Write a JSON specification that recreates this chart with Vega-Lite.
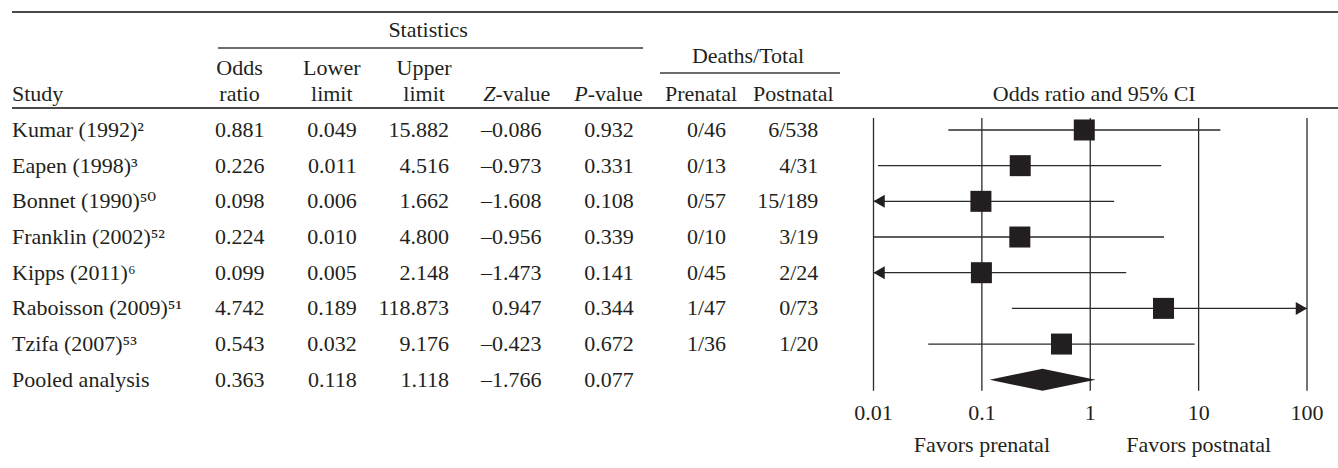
{
  "$schema": "https://vega.github.io/schema/vega-lite/v6.json",
  "width": 1338,
  "height": 468,
  "autosize": {"type": "none"},
  "padding": 0,
  "background": "white",
  "config": {
    "view": {"stroke": null},
    "text": {"font": "Liberation Serif, DejaVu Serif", "fontSize": 22, "color": "#231f20", "baseline": "middle"}
  },
  "datasets": {
    "studies": [
      {"study": "Kumar (1992)²", "or": 0.881, "lo": 0.049, "hi": 15.882, "z": "–0.086", "p": "0.932", "pre": "0/46", "post": "6/538"},
      {"study": "Eapen (1998)³", "or": 0.226, "lo": 0.011, "hi": 4.516, "z": "–0.973", "p": "0.331", "pre": "0/13", "post": "4/31"},
      {"study": "Bonnet (1990)⁵⁰", "or": 0.098, "lo": 0.006, "hi": 1.662, "z": "–1.608", "p": "0.108", "pre": "0/57", "post": "15/189"},
      {"study": "Franklin (2002)⁵²", "or": 0.224, "lo": 0.010, "hi": 4.800, "z": "–0.956", "p": "0.339", "pre": "0/10", "post": "3/19"},
      {"study": "Kipps (2011)⁶", "or": 0.099, "lo": 0.005, "hi": 2.148, "z": "–1.473", "p": "0.141", "pre": "0/45", "post": "2/24"},
      {"study": "Raboisson (2009)⁵¹", "or": 4.742, "lo": 0.189, "hi": 118.873, "z": "0.947", "p": "0.344", "pre": "1/47", "post": "0/73"},
      {"study": "Tzifa (2007)⁵³", "or": 0.543, "lo": 0.032, "hi": 9.176, "z": "–0.423", "p": "0.672", "pre": "1/36", "post": "1/20"},
      {"study": "Pooled analysis", "or": 0.363, "lo": 0.118, "hi": 1.118, "z": "–1.766", "p": "0.077"}
    ],
    "ticks": [{"t": 0.01}, {"t": 0.1}, {"t": 1}, {"t": 10}, {"t": 100}]
  },
  "resolve": {"scale": {"x": "independent"}},
  "layer": [
    {
      "layer": [
        {
          "data": {"name": "studies"},
          "mark": {"type": "text", "align": "left", "dx": -252.5},
          "encoding": {
            "x": {"datum": "or", "type": "nominal", "scale": {"type": "point", "domain": ["or", "lo", "hi", "z", "p", "pre", "post"], "range": [264.5, 818.3], "padding": 0}, "axis": null},
            "y": {"field": "study", "type": "nominal", "scale": {"type": "point", "domain": ["hdr", "Kumar (1992)²", "Eapen (1998)³", "Bonnet (1990)⁵⁰", "Franklin (2002)⁵²", "Kipps (2011)⁶", "Raboisson (2009)⁵¹", "Tzifa (2007)⁵³", "Pooled analysis", "ticks", "favors"], "range": [94.3, 451.1], "padding": 0}, "axis": null},
            "text": {"field": "study", "type": "nominal"}
          }
        },
        {
          "data": {"values": [{"t": "Study"}]},
          "mark": {"type": "text", "align": "left", "dx": -252.5},
          "encoding": {
            "x": {"datum": "or", "type": "nominal", "scale": {"type": "point", "domain": ["or", "lo", "hi", "z", "p", "pre", "post"], "range": [264.5, 818.3], "padding": 0}, "axis": null},
            "y": {"datum": "hdr", "type": "nominal", "scale": {"type": "point", "domain": ["hdr", "Kumar (1992)²", "Eapen (1998)³", "Bonnet (1990)⁵⁰", "Franklin (2002)⁵²", "Kipps (2011)⁶", "Raboisson (2009)⁵¹", "Tzifa (2007)⁵³", "Pooled analysis", "ticks", "favors"], "range": [94.3, 451.1], "padding": 0}, "axis": null},
            "text": {"field": "t", "type": "nominal"}
          }
        },
        {
          "data": {"name": "studies"},
          "transform": [{"fold": ["or", "lo", "hi"]}],
          "mark": {"type": "text", "align": "right"},
          "encoding": {
            "x": {"field": "key", "type": "nominal", "scale": {"type": "point", "domain": ["or", "lo", "hi", "z", "p", "pre", "post"], "range": [264.5, 818.3], "padding": 0}, "axis": null},
            "y": {"field": "study", "type": "nominal", "scale": {"type": "point", "domain": ["hdr", "Kumar (1992)²", "Eapen (1998)³", "Bonnet (1990)⁵⁰", "Franklin (2002)⁵²", "Kipps (2011)⁶", "Raboisson (2009)⁵¹", "Tzifa (2007)⁵³", "Pooled analysis", "ticks", "favors"], "range": [94.3, 451.1], "padding": 0}, "axis": null},
            "text": {"field": "value", "type": "quantitative", "format": ".3f"}
          }
        },
        {
          "data": {"name": "studies"},
          "transform": [{"fold": ["z", "p", "pre", "post"]}, {"filter": "datum.value != null"}],
          "mark": {"type": "text", "align": "right"},
          "encoding": {
            "x": {"field": "key", "type": "nominal", "scale": {"type": "point", "domain": ["or", "lo", "hi", "z", "p", "pre", "post"], "range": [264.5, 818.3], "padding": 0}, "axis": null},
            "y": {"field": "study", "type": "nominal", "scale": {"type": "point", "domain": ["hdr", "Kumar (1992)²", "Eapen (1998)³", "Bonnet (1990)⁵⁰", "Franklin (2002)⁵²", "Kipps (2011)⁶", "Raboisson (2009)⁵¹", "Tzifa (2007)⁵³", "Pooled analysis", "ticks", "favors"], "range": [94.3, 451.1], "padding": 0}, "axis": null},
            "text": {"field": "value", "type": "nominal"}
          }
        },
        {
          "data": {"values": [{"c": "or", "t": "Odds"}, {"c": "lo", "t": "Lower"}, {"c": "hi", "t": "Upper"}]},
          "mark": {"type": "text", "align": "center", "dx": -25, "dy": -26},
          "encoding": {
            "x": {"field": "c", "type": "nominal", "scale": {"type": "point", "domain": ["or", "lo", "hi", "z", "p", "pre", "post"], "range": [264.5, 818.3], "padding": 0}, "axis": null},
            "y": {"datum": "hdr", "type": "nominal", "scale": {"type": "point", "domain": ["hdr", "Kumar (1992)²", "Eapen (1998)³", "Bonnet (1990)⁵⁰", "Franklin (2002)⁵²", "Kipps (2011)⁶", "Raboisson (2009)⁵¹", "Tzifa (2007)⁵³", "Pooled analysis", "ticks", "favors"], "range": [94.3, 451.1], "padding": 0}, "axis": null},
            "text": {"field": "t", "type": "nominal"}
          }
        },
        {
          "data": {"values": [{"c": "or", "t": "ratio"}, {"c": "lo", "t": "limit"}, {"c": "hi", "t": "limit"}, {"c": "pre", "t": "Prenatal"}, {"c": "post", "t": "Postnatal"}]},
          "mark": {"type": "text", "align": "center", "dx": -25},
          "encoding": {
            "x": {"field": "c", "type": "nominal", "scale": {"type": "point", "domain": ["or", "lo", "hi", "z", "p", "pre", "post"], "range": [264.5, 818.3], "padding": 0}, "axis": null},
            "y": {"datum": "hdr", "type": "nominal", "scale": {"type": "point", "domain": ["hdr", "Kumar (1992)²", "Eapen (1998)³", "Bonnet (1990)⁵⁰", "Franklin (2002)⁵²", "Kipps (2011)⁶", "Raboisson (2009)⁵¹", "Tzifa (2007)⁵³", "Pooled analysis", "ticks", "favors"], "range": [94.3, 451.1], "padding": 0}, "axis": null},
            "text": {"field": "t", "type": "nominal"}
          }
        },
        {
          "data": {"values": [{"c": "z", "t": "Z"}, {"c": "p", "t": "P"}]},
          "mark": {"type": "text", "align": "right", "fontStyle": "italic", "dx": -46},
          "encoding": {
            "x": {"field": "c", "type": "nominal", "scale": {"type": "point", "domain": ["or", "lo", "hi", "z", "p", "pre", "post"], "range": [264.5, 818.3], "padding": 0}, "axis": null},
            "y": {"datum": "hdr", "type": "nominal", "scale": {"type": "point", "domain": ["hdr", "Kumar (1992)²", "Eapen (1998)³", "Bonnet (1990)⁵⁰", "Franklin (2002)⁵²", "Kipps (2011)⁶", "Raboisson (2009)⁵¹", "Tzifa (2007)⁵³", "Pooled analysis", "ticks", "favors"], "range": [94.3, 451.1], "padding": 0}, "axis": null},
            "text": {"field": "t", "type": "nominal"}
          }
        },
        {
          "data": {"values": [{"c": "z", "t": "-value"}, {"c": "p", "t": "-value"}]},
          "mark": {"type": "text", "align": "left", "dx": -46},
          "encoding": {
            "x": {"field": "c", "type": "nominal", "scale": {"type": "point", "domain": ["or", "lo", "hi", "z", "p", "pre", "post"], "range": [264.5, 818.3], "padding": 0}, "axis": null},
            "y": {"datum": "hdr", "type": "nominal", "scale": {"type": "point", "domain": ["hdr", "Kumar (1992)²", "Eapen (1998)³", "Bonnet (1990)⁵⁰", "Franklin (2002)⁵²", "Kipps (2011)⁶", "Raboisson (2009)⁵¹", "Tzifa (2007)⁵³", "Pooled analysis", "ticks", "favors"], "range": [94.3, 451.1], "padding": 0}, "axis": null},
            "text": {"field": "t", "type": "nominal"}
          }
        },
        {
          "data": {"values": [{"t": "Statistics"}]},
          "mark": {"type": "text", "align": "center", "dx": -21, "dy": -64},
          "encoding": {
            "x": {"datum": "hi", "type": "nominal", "scale": {"type": "point", "domain": ["or", "lo", "hi", "z", "p", "pre", "post"], "range": [264.5, 818.3], "padding": 0}, "axis": null},
            "y": {"datum": "hdr", "type": "nominal", "scale": {"type": "point", "domain": ["hdr", "Kumar (1992)²", "Eapen (1998)³", "Bonnet (1990)⁵⁰", "Franklin (2002)⁵²", "Kipps (2011)⁶", "Raboisson (2009)⁵¹", "Tzifa (2007)⁵³", "Pooled analysis", "ticks", "favors"], "range": [94.3, 451.1], "padding": 0}, "axis": null},
            "text": {"field": "t", "type": "nominal"}
          }
        },
        {
          "data": {"values": [{"t": "Deaths/Total"}]},
          "mark": {"type": "text", "align": "center", "dx": 22, "dy": -38},
          "encoding": {
            "x": {"datum": "pre", "type": "nominal", "scale": {"type": "point", "domain": ["or", "lo", "hi", "z", "p", "pre", "post"], "range": [264.5, 818.3], "padding": 0}, "axis": null},
            "y": {"datum": "hdr", "type": "nominal", "scale": {"type": "point", "domain": ["hdr", "Kumar (1992)²", "Eapen (1998)³", "Bonnet (1990)⁵⁰", "Franklin (2002)⁵²", "Kipps (2011)⁶", "Raboisson (2009)⁵¹", "Tzifa (2007)⁵³", "Pooled analysis", "ticks", "favors"], "range": [94.3, 451.1], "padding": 0}, "axis": null},
            "text": {"field": "t", "type": "nominal"}
          }
        },
        {
          "data": {"values": [{}]},
          "mark": {"type": "rule", "stroke": "#3c3c3c", "strokeWidth": 1.6, "xOffset": -46.5, "x2Offset": 9.3, "yOffset": -46.3},
          "encoding": {
            "x": {"datum": "or", "type": "nominal", "scale": {"type": "point", "domain": ["or", "lo", "hi", "z", "p", "pre", "post"], "range": [264.5, 818.3], "padding": 0}, "axis": null},
            "x2": {"datum": "p"},
            "y": {"datum": "hdr", "type": "nominal", "scale": {"type": "point", "domain": ["hdr", "Kumar (1992)²", "Eapen (1998)³", "Bonnet (1990)⁵⁰", "Franklin (2002)⁵²", "Kipps (2011)⁶", "Raboisson (2009)⁵¹", "Tzifa (2007)⁵³", "Pooled analysis", "ticks", "favors"], "range": [94.3, 451.1], "padding": 0}, "axis": null}
          }
        },
        {
          "data": {"values": [{}]},
          "mark": {"type": "rule", "stroke": "#3c3c3c", "strokeWidth": 1.6, "xOffset": -66, "x2Offset": 21.7, "yOffset": -21.3},
          "encoding": {
            "x": {"datum": "pre", "type": "nominal", "scale": {"type": "point", "domain": ["or", "lo", "hi", "z", "p", "pre", "post"], "range": [264.5, 818.3], "padding": 0}, "axis": null},
            "x2": {"datum": "post"},
            "y": {"datum": "hdr", "type": "nominal", "scale": {"type": "point", "domain": ["hdr", "Kumar (1992)²", "Eapen (1998)³", "Bonnet (1990)⁵⁰", "Franklin (2002)⁵²", "Kipps (2011)⁶", "Raboisson (2009)⁵¹", "Tzifa (2007)⁵³", "Pooled analysis", "ticks", "favors"], "range": [94.3, 451.1], "padding": 0}, "axis": null}
          }
        },
        {
          "data": {"values": [{}]},
          "mark": {"type": "rule", "stroke": "#4a4a4a", "strokeWidth": 2, "xOffset": -252.5, "yOffset": -82.3},
          "encoding": {
            "x": {"datum": "or", "type": "nominal", "scale": {"type": "point", "domain": ["or", "lo", "hi", "z", "p", "pre", "post"], "range": [264.5, 818.3], "padding": 0}, "axis": null},
            "x2": {"value": "width"},
            "y": {"datum": "hdr", "type": "nominal", "scale": {"type": "point", "domain": ["hdr", "Kumar (1992)²", "Eapen (1998)³", "Bonnet (1990)⁵⁰", "Franklin (2002)⁵²", "Kipps (2011)⁶", "Raboisson (2009)⁵¹", "Tzifa (2007)⁵³", "Pooled analysis", "ticks", "favors"], "range": [94.3, 451.1], "padding": 0}, "axis": null}
          }
        },
        {
          "data": {"values": [{}]},
          "mark": {"type": "rule", "stroke": "#4a4a4a", "strokeWidth": 2, "xOffset": -252.5, "yOffset": 13.7},
          "encoding": {
            "x": {"datum": "or", "type": "nominal", "scale": {"type": "point", "domain": ["or", "lo", "hi", "z", "p", "pre", "post"], "range": [264.5, 818.3], "padding": 0}, "axis": null},
            "x2": {"value": "width"},
            "y": {"datum": "hdr", "type": "nominal", "scale": {"type": "point", "domain": ["hdr", "Kumar (1992)²", "Eapen (1998)³", "Bonnet (1990)⁵⁰", "Franklin (2002)⁵²", "Kipps (2011)⁶", "Raboisson (2009)⁵¹", "Tzifa (2007)⁵³", "Pooled analysis", "ticks", "favors"], "range": [94.3, 451.1], "padding": 0}, "axis": null}
          }
        }
      ]
    },
    {
      "layer": [
        {
          "data": {"name": "ticks"},
          "mark": {"type": "rule", "stroke": "#2a2a2a", "strokeWidth": 1.3, "yOffset": -12, "y2Offset": 11},
          "encoding": {
            "x": {"field": "t", "type": "quantitative", "scale": {"type": "log", "domain": [0.01, 100], "range": [873.5, 1307], "clamp": true, "nice": false}, "axis": null},
            "y": {"datum": "Kumar (1992)²", "type": "nominal", "scale": {"type": "point", "domain": ["hdr", "Kumar (1992)²", "Eapen (1998)³", "Bonnet (1990)⁵⁰", "Franklin (2002)⁵²", "Kipps (2011)⁶", "Raboisson (2009)⁵¹", "Tzifa (2007)⁵³", "Pooled analysis", "ticks", "favors"], "range": [94.3, 451.1], "padding": 0}, "axis": null},
            "y2": {"datum": "Pooled analysis"}
          }
        },
        {
          "data": {"name": "ticks"},
          "mark": {"type": "text", "align": "center", "dy": -2},
          "encoding": {
            "x": {"field": "t", "type": "quantitative", "scale": {"type": "log", "domain": [0.01, 100], "range": [873.5, 1307], "clamp": true, "nice": false}, "axis": null},
            "y": {"datum": "ticks", "type": "nominal", "scale": {"type": "point", "domain": ["hdr", "Kumar (1992)²", "Eapen (1998)³", "Bonnet (1990)⁵⁰", "Franklin (2002)⁵²", "Kipps (2011)⁶", "Raboisson (2009)⁵¹", "Tzifa (2007)⁵³", "Pooled analysis", "ticks", "favors"], "range": [94.3, 451.1], "padding": 0}, "axis": null},
            "text": {"field": "t", "type": "nominal"}
          }
        },
        {
          "data": {"values": [{"v": 0.1, "t": "Favors prenatal"}, {"v": 10, "t": "Favors postnatal"}]},
          "mark": {"type": "text", "align": "center", "dy": -6.5},
          "encoding": {
            "x": {"field": "v", "type": "quantitative", "scale": {"type": "log", "domain": [0.01, 100], "range": [873.5, 1307], "clamp": true, "nice": false}, "axis": null},
            "y": {"datum": "favors", "type": "nominal", "scale": {"type": "point", "domain": ["hdr", "Kumar (1992)²", "Eapen (1998)³", "Bonnet (1990)⁵⁰", "Franklin (2002)⁵²", "Kipps (2011)⁶", "Raboisson (2009)⁵¹", "Tzifa (2007)⁵³", "Pooled analysis", "ticks", "favors"], "range": [94.3, 451.1], "padding": 0}, "axis": null},
            "text": {"field": "t", "type": "nominal"}
          }
        },
        {
          "data": {"values": [{"v": 1, "t": "Odds ratio and 95% CI"}]},
          "mark": {"type": "text", "align": "center", "dx": 4},
          "encoding": {
            "x": {"field": "v", "type": "quantitative", "scale": {"type": "log", "domain": [0.01, 100], "range": [873.5, 1307], "clamp": true, "nice": false}, "axis": null},
            "y": {"datum": "hdr", "type": "nominal", "scale": {"type": "point", "domain": ["hdr", "Kumar (1992)²", "Eapen (1998)³", "Bonnet (1990)⁵⁰", "Franklin (2002)⁵²", "Kipps (2011)⁶", "Raboisson (2009)⁵¹", "Tzifa (2007)⁵³", "Pooled analysis", "ticks", "favors"], "range": [94.3, 451.1], "padding": 0}, "axis": null},
            "text": {"field": "t", "type": "nominal"}
          }
        },
        {
          "data": {"name": "studies"},
          "transform": [{"filter": "datum.study != 'Pooled analysis'"}],
          "mark": {"type": "rule", "stroke": "#2a2a2a", "strokeWidth": 1.3},
          "encoding": {
            "x": {"field": "lo", "type": "quantitative", "scale": {"type": "log", "domain": [0.01, 100], "range": [873.5, 1307], "clamp": true, "nice": false}, "axis": null},
            "x2": {"field": "hi"},
            "y": {"field": "study", "type": "nominal", "scale": {"type": "point", "domain": ["hdr", "Kumar (1992)²", "Eapen (1998)³", "Bonnet (1990)⁵⁰", "Franklin (2002)⁵²", "Kipps (2011)⁶", "Raboisson (2009)⁵¹", "Tzifa (2007)⁵³", "Pooled analysis", "ticks", "favors"], "range": [94.3, 451.1], "padding": 0}, "axis": null}
          }
        },
        {
          "data": {"name": "studies"},
          "transform": [{"filter": "datum.study != 'Pooled analysis'"}],
          "mark": {"type": "point", "shape": "square", "filled": true, "size": 441, "fill": "#231f20", "opacity": 1, "strokeWidth": 0},
          "encoding": {
            "x": {"field": "or", "type": "quantitative", "scale": {"type": "log", "domain": [0.01, 100], "range": [873.5, 1307], "clamp": true, "nice": false}, "axis": null},
            "y": {"field": "study", "type": "nominal", "scale": {"type": "point", "domain": ["hdr", "Kumar (1992)²", "Eapen (1998)³", "Bonnet (1990)⁵⁰", "Franklin (2002)⁵²", "Kipps (2011)⁶", "Raboisson (2009)⁵¹", "Tzifa (2007)⁵³", "Pooled analysis", "ticks", "favors"], "range": [94.3, 451.1], "padding": 0}, "axis": null}
          }
        },
        {
          "data": {"name": "studies"},
          "transform": [{"filter": "datum.lo < 0.01"}],
          "mark": {"type": "point", "shape": "triangle-left", "filled": true, "size": 169, "fill": "#231f20", "opacity": 1, "strokeWidth": 0, "xOffset": 5.6},
          "encoding": {
            "x": {"field": "lo", "type": "quantitative", "scale": {"type": "log", "domain": [0.01, 100], "range": [873.5, 1307], "clamp": true, "nice": false}, "axis": null},
            "y": {"field": "study", "type": "nominal", "scale": {"type": "point", "domain": ["hdr", "Kumar (1992)²", "Eapen (1998)³", "Bonnet (1990)⁵⁰", "Franklin (2002)⁵²", "Kipps (2011)⁶", "Raboisson (2009)⁵¹", "Tzifa (2007)⁵³", "Pooled analysis", "ticks", "favors"], "range": [94.3, 451.1], "padding": 0}, "axis": null}
          }
        },
        {
          "data": {"name": "studies"},
          "transform": [{"filter": "datum.hi > 100"}],
          "mark": {"type": "point", "shape": "triangle-right", "filled": true, "size": 169, "fill": "#231f20", "opacity": 1, "strokeWidth": 0, "xOffset": -5.6},
          "encoding": {
            "x": {"field": "hi", "type": "quantitative", "scale": {"type": "log", "domain": [0.01, 100], "range": [873.5, 1307], "clamp": true, "nice": false}, "axis": null},
            "y": {"field": "study", "type": "nominal", "scale": {"type": "point", "domain": ["hdr", "Kumar (1992)²", "Eapen (1998)³", "Bonnet (1990)⁵⁰", "Franklin (2002)⁵²", "Kipps (2011)⁶", "Raboisson (2009)⁵¹", "Tzifa (2007)⁵³", "Pooled analysis", "ticks", "favors"], "range": [94.3, 451.1], "padding": 0}, "axis": null}
          }
        },
        {
          "data": {"name": "studies"},
          "transform": [{"filter": "datum.study == 'Pooled analysis'"}],
          "mark": {"type": "point", "shape": "M -1 0 L 0 -0.2075 L 1 0 L 0 0.2075 Z", "filled": true, "size": 11236, "fill": "#231f20", "opacity": 1, "strokeWidth": 0},
          "encoding": {
            "x": {"field": "or", "type": "quantitative", "scale": {"type": "log", "domain": [0.01, 100], "range": [873.5, 1307], "clamp": true, "nice": false}, "axis": null},
            "y": {"field": "study", "type": "nominal", "scale": {"type": "point", "domain": ["hdr", "Kumar (1992)²", "Eapen (1998)³", "Bonnet (1990)⁵⁰", "Franklin (2002)⁵²", "Kipps (2011)⁶", "Raboisson (2009)⁵¹", "Tzifa (2007)⁵³", "Pooled analysis", "ticks", "favors"], "range": [94.3, 451.1], "padding": 0}, "axis": null}
          }
        }
      ]
    }
  ]
}
